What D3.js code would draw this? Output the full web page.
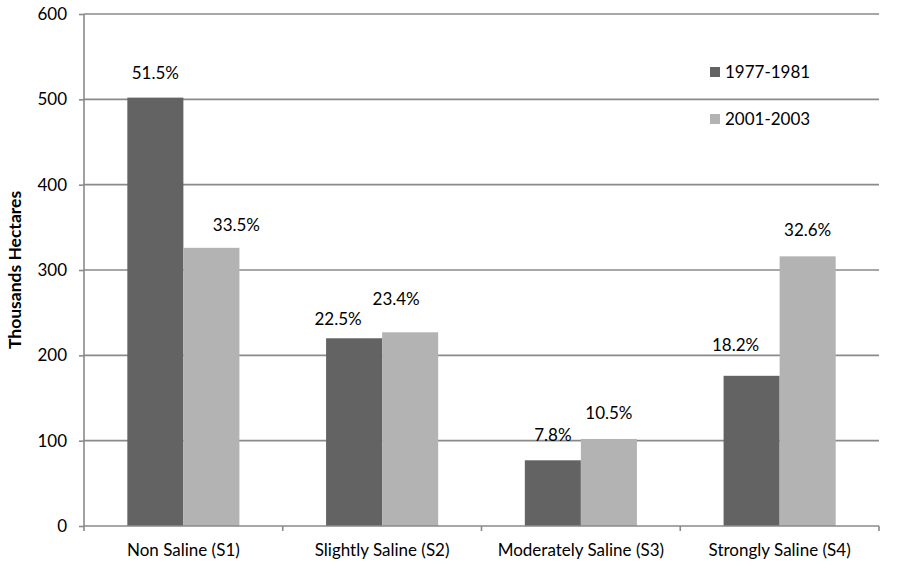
<!DOCTYPE html>
<html><head><meta charset="utf-8">
<script src="https://cdn.jsdelivr.net/npm/d3@7"></script>
<style>body{margin:0;background:#fff}svg{display:block}text{font-family:Lato,"Open Sans",sans-serif;fill:#000}</style>
</head><body>
<script>
const categories = ["Non Saline (S1)", "Slightly Saline (S2)", "Moderately Saline (S3)", "Strongly Saline (S4)"];
const seriesNames = ["1977-1981", "2001-2003"];
const values1977 = [502, 220, 77, 176];
const values2001 = [326, 227, 102, 316];
const labels1977 = ["51.5%", "22.5%", "7.8%", "18.2%"];
const labels2001 = ["33.5%", "23.4%", "10.5%", "32.6%"];
const yTicks = [0, 100, 200, 300, 400, 500, 600];
// label placement nudges (px) [series][category]
const labelDx = [[0, -16, 0, -16], [25, -14, 0, 0]];
const labelDy = [[-19, -13, -19, -25], [-17, -27, -20, -20]];

const W = 899, H = 573;
const FS = 17;
const m = {left: 84, right: 20, top: 14, bottom: 47};
const svg = d3.select("body").append("svg").attr("width", W).attr("height", H);
const x = d3.scaleBand().domain(categories).range([m.left, W - m.right]).paddingInner(0.436).paddingOuter(0.218);
const xs = d3.scaleBand().domain(seriesNames).range([0, x.bandwidth()]);
const y = d3.scaleLinear().domain([0, 600]).range([H - m.bottom, m.top]);
const colors = ["#636363", "#b3b3b3"];
const grid = "#8a8a8a";

// gridlines
svg.append("g").selectAll("line").data(yTicks.filter(d => d > 0)).join("line")
  .attr("x1", m.left).attr("x2", W - m.right)
  .attr("y1", d => y(d)).attr("y2", d => y(d))
  .attr("stroke", grid).attr("stroke-width", 1.6);

// bars
const series = [values1977, values2001];
const labels = [labels1977, labels2001];
series.forEach((vals, si) => {
  svg.append("g").selectAll("rect").data(vals).join("rect")
    .attr("x", (d, i) => x(categories[i]) + xs(seriesNames[si]))
    .attr("width", xs.bandwidth())
    .attr("y", d => y(d))
    .attr("height", d => y(0) - y(d))
    .attr("fill", colors[si]);
  svg.append("g").selectAll("text").data(vals).join("text")
    .attr("x", (d, i) => x(categories[i]) + xs(seriesNames[si]) + xs.bandwidth() / 2 + labelDx[si][i])
    .attr("y", (d, i) => y(d) + labelDy[si][i])
    .attr("text-anchor", "middle").attr("font-size", FS)
    .text((d, i) => labels[si][i]);
});

// y axis
const ya = svg.append("g").attr("transform", `translate(${m.left},0)`)
  .call(d3.axisLeft(y).tickValues(yTicks).tickSize(5).tickPadding(12));
ya.select(".domain").attr("stroke", grid).attr("stroke-width", 1.6).attr("d", `M0,${y(600)}V${y(0)}`);
ya.selectAll(".tick line").attr("stroke", grid).attr("stroke-width", 1.6);
ya.selectAll(".tick text").attr("font-size", FS).attr("font-family", "Lato").attr("fill", "#000");

// x axis
const xa = svg.append("g").attr("transform", `translate(0,${y(0)})`)
  .call(d3.axisBottom(x).tickSize(0).tickPadding(18));
xa.select(".domain").attr("stroke", grid).attr("stroke-width", 1.6).attr("d", `M${m.left},0H${W - m.right}`);
xa.selectAll(".tick text").attr("font-size", FS).attr("font-family", "Lato").attr("fill", "#000");
// category boundary ticks
const bounds = categories.map(c => x(c) - x.step() * x.paddingInner() / 2);
bounds.push(W - m.right);
xa.append("g").selectAll("line").data(bounds).join("line")
  .attr("x1", d => d).attr("x2", d => d).attr("y1", 0).attr("y2", 5)
  .attr("stroke", grid).attr("stroke-width", 1.6);

// y title
svg.append("text").attr("transform", `translate(21,${(y(0) + y(600)) / 2}) rotate(-90)`)
  .attr("text-anchor", "middle").attr("font-size", 17.5).attr("font-weight", "bold")
  .text("Thousands Hectares");

// legend
const lg = svg.append("g");
seriesNames.forEach((s, i) => {
  const ly = 72 + i * 47;
  lg.append("rect").attr("x", 710).attr("y", ly - 5).attr("width", 10).attr("height", 10).attr("fill", colors[i]);
  lg.append("text").attr("x", 725).attr("y", ly + 6).attr("font-size", FS).text(s);
});
</script>
</body></html>
